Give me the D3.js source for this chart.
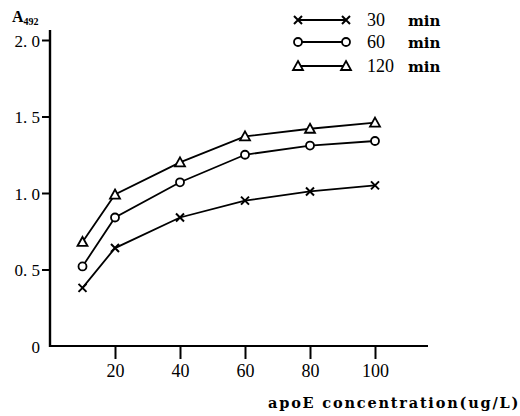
<!DOCTYPE html>
<html>
<head>
<meta charset="utf-8">
<script src="https://cdn.jsdelivr.net/npm/d3@7"></script>
<style>
  body { margin: 0; background: #fff; }
  text { font-family: "Liberation Serif", "DejaVu Serif", serif; fill: #000; }
</style>
</head>
<body>
<svg id="chart" width="520" height="416"></svg>
<script>
// chart values
const concentrations = [10, 20, 40, 60, 80, 100];
const a30 = [0.38, 0.64, 0.84, 0.95, 1.01, 1.05];
const a60 = [0.52, 0.84, 1.07, 1.25, 1.31, 1.34];
const a120 = [0.68, 0.99, 1.20, 1.37, 1.42, 1.46];
const seriesNames = ["30", "60", "120"];
const xTicks = [20, 40, 60, 80, 100];
const yTicks = [0, 0.5, 1.0, 1.5, 2.0];
const yTickLabels = ["0", "0. 5", "1. 0", "1. 5", "2. 0"];

const svg = d3.select("#chart");

// scales
const x = d3.scaleLinear().domain([0, 100]).range([50, 375]);
const y = d3.scaleLinear().domain([0, 2]).range([346, 40]);

// x axis line and ticks
svg.append("line")
    .attr("x1", 50).attr("x2", 428)
    .attr("y1", y(0)).attr("y2", y(0))
    .attr("stroke", "black").attr("stroke-width", 2.2);

const xAxis = svg.append("g").attr("transform", `translate(0,${y(0)})`)
    .call(d3.axisBottom(x).tickValues(xTicks).tickSize(13).tickPadding(5).tickFormat(d3.format("d")));
xAxis.select(".domain").remove();
xAxis.selectAll("line").attr("stroke-width", 2);
xAxis.selectAll("text")
    .style("font-size", "18px")
    .style("font-family", "'Liberation Serif', serif");

// y axis line and ticks
svg.append("line")
    .attr("x1", 50).attr("x2", 50)
    .attr("y1", 30).attr("y2", y(0) + 1)
    .attr("stroke", "black").attr("stroke-width", 2.4);

const yAxis = svg.append("g").attr("transform", "translate(50,0)")
    .call(d3.axisLeft(y).tickValues(yTicks).tickSize(8).tickPadding(2)
        .tickFormat((d, i) => yTickLabels[i]));
yAxis.select(".domain").remove();
yAxis.selectAll("line").attr("stroke-width", 2)
    .attr("display", d => d === 0 ? "none" : null);
yAxis.selectAll("text")
    .style("font-size", "17px")
    .style("font-family", "'Liberation Serif', serif")
    .attr("dy", "0.36em");

// y axis title A492
const yTitle = svg.append("text").attr("x", 12).attr("y", 22)
    .style("font-size", "16px").style("font-weight", "bold");
yTitle.append("tspan").text("A");
yTitle.append("tspan").attr("dy", 3).style("font-size", "10px").text("492");

// x axis title
svg.append("text")
    .attr("x", 268).attr("y", 408)
    .style("font-size", "14.5px").style("font-weight", "bold")
    .style("font-family", "'DejaVu Serif', serif")
    .style("letter-spacing", "1.8px")
    .text("apoE concentration(ug/L)");

// markers
function drawMarker(g, kind, cx, cy) {
  if (kind === 0) {
    g.append("path")
      .attr("d", `M${cx - 4},${cy - 4}L${cx + 4},${cy + 4}M${cx - 4},${cy + 4}L${cx + 4},${cy - 4}`)
      .attr("stroke", "black").attr("stroke-width", 2).attr("fill", "none");
  } else if (kind === 1) {
    g.append("circle").attr("cx", cx).attr("cy", cy).attr("r", 4)
      .attr("stroke", "black").attr("stroke-width", 1.8).attr("fill", "white");
  } else {
    g.append("path")
      .attr("d", `M${cx},${cy - 5}L${cx + 5},${cy + 4}L${cx - 5},${cy + 4}Z`)
      .attr("stroke", "black").attr("stroke-width", 1.8).attr("fill", "white");
  }
}

const allSeries = [a30, a60, a120];
const line = d3.line()
    .x((d, i) => x(concentrations[i]))
    .y(d => y(d));

allSeries.forEach((vals, k) => {
  const g = svg.append("g");
  g.append("path")
    .datum(vals)
    .attr("d", line)
    .attr("fill", "none").attr("stroke", "black").attr("stroke-width", 1.8);
  vals.forEach((v, i) => drawMarker(g, k, x(concentrations[i]), y(v)));
});

// legend
const legendY = [20, 42, 66];
seriesNames.forEach((name, k) => {
  const g = svg.append("g");
  g.append("line")
    .attr("x1", 298).attr("x2", 346)
    .attr("y1", legendY[k]).attr("y2", legendY[k])
    .attr("stroke", "black").attr("stroke-width", 1.8);
  drawMarker(g, k, 298, legendY[k]);
  drawMarker(g, k, 346, legendY[k]);
  g.append("text").attr("x", 367).attr("y", legendY[k] + 6)
    .style("font-size", "18px").text(name);
  g.append("text").attr("x", 408).attr("y", legendY[k] + 6)
    .style("font-size", "15px").style("font-weight", "bold")
    .style("font-family", "'DejaVu Serif', serif").text("min");
});
</script>
</body>
</html>
